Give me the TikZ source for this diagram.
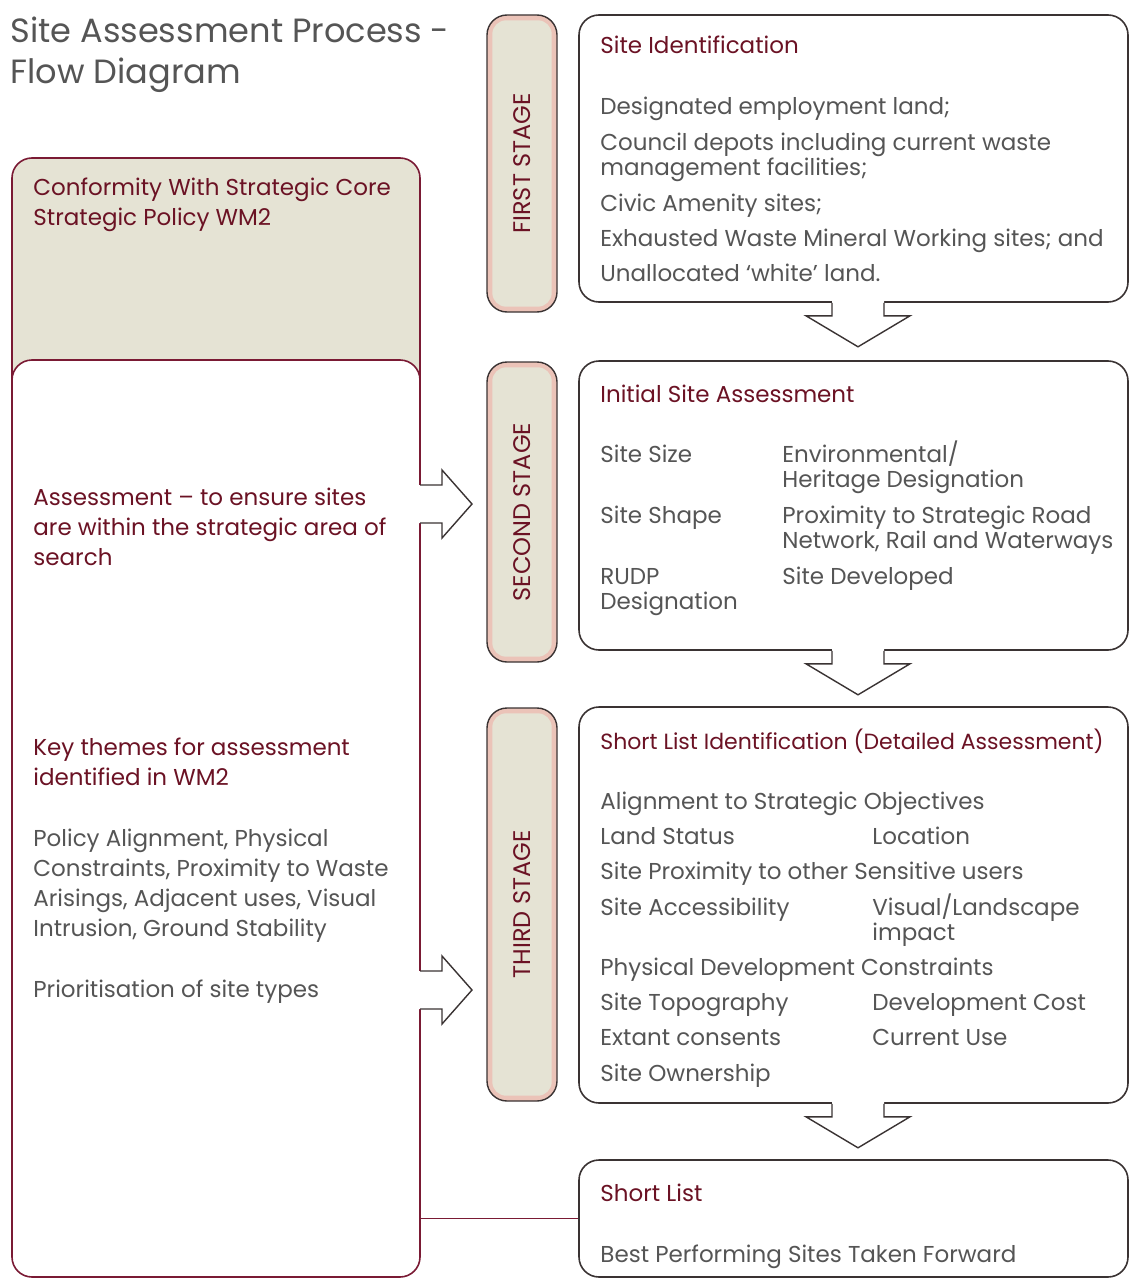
\documentclass[tikz,border=0pt]{standalone}
\usepackage{fontspec}
\setmainfont{Poppins}
\usetikzlibrary{positioning}
\definecolor{headred}{HTML}{6B1224}
\definecolor{bodygrey}{HTML}{555555}
\definecolor{boxline}{HTML}{3A3333}
\definecolor{leftline}{HTML}{7A1A34}
\definecolor{panelfill}{HTML}{E5E3D4}
\definecolor{stagepink}{HTML}{EBC3B8}
\newcommand{\lines}[1]{\begin{tabular}[t]{@{}l@{}}#1\end{tabular}}
\begin{document}
\begin{tikzpicture}[x=0.5pt,y=-0.5pt,
  box/.style={draw=boxline,line width=0.8pt,rounded corners=10pt,fill=white,inner sep=0pt},
  stagebar/.style={draw=boxline,line width=0.7pt,rounded corners=10pt,fill=stagepink,minimum width=35pt,inner sep=0pt},
  stagetext/.style={rotate=90,text=headred,inner sep=0pt,font=\fontsize{12}{14}\selectfont},
  head/.style={anchor=base west,inner sep=0pt,text=headred,font=\fontsize{11.5}{15}\selectfont},
  body/.style={anchor=base west,inner sep=0pt,text=bodygrey,font=\fontsize{11.5}{12.5}\selectfont},
  body left/.style={body,font=\fontsize{11.5}{15}\selectfont},
  blockarrow/.style={draw=boxline,line width=0.7pt,line join=miter}]

\useasboundingbox (0,0) rectangle (1129,1279);

% title
\node[anchor=base west,inner sep=0pt,text=bodygrey,font=\fontsize{16.8}{20.5}\selectfont] (title) at (10,43) {\lines{Site Assessment Process -\\Flow Diagram}};

% left panel
\node[box,fill=panelfill,draw=leftline,minimum width=204pt,minimum height=121pt] (policy) at (216,279) {};
\node[box,draw=leftline,minimum width=204pt,minimum height=458.5pt] (panel) at (216,818.5) {};

% right boxes
\node[box,minimum width=274.5pt,minimum height=143.5pt] (ident) at (853.5,158.5) {};
\node[box,minimum width=274.5pt,minimum height=144.5pt] (initial) at (853.5,505.5) {};
\node[box,minimum width=274.5pt,minimum height=198pt] (detail) at (853.5,905) {};
\node[box,minimum width=274.5pt,minimum height=58.5pt] (shortlist) at (853.5,1218.5) {};

% stage bars
\foreach \n/\yc/\h/\lbl in {first/163.5/148.5pt/FIRST STAGE,second/512/150pt/SECOND STAGE,third/904.5/196.5pt/THIRD STAGE} {
  \node[stagebar,minimum height=\h] (\n) at (522,\yc) {};
  \fill[panelfill,rounded corners=7pt] ([shift={(6,6)}]\n.north west) rectangle ([shift={(-6,-6)}]\n.south east);
  \node[stagetext] (\n-lbl) at (\n) {\lbl};
}

% arrows into the stages
\foreach \yc in {504,990} {
  \fill[white] (414,\yc-19) -- (442,\yc-19) -- (442,\yc-34) -- (472,\yc) -- (442,\yc+34) -- (442,\yc+19) -- (414,\yc+19) -- cycle;
  \draw[blockarrow] (420,\yc-19) -- (442,\yc-19) -- (442,\yc-34) -- (472,\yc) -- (442,\yc+34) -- (442,\yc+19) -- (420,\yc+19);
}

% arrows between boxes
\foreach \b in {ident,initial,detail} {
  \begin{scope}[shift={(\b.south)},xshift=2.25pt]
    \fill[white] (-26,-4) -- (26,-4) -- (26,13) -- (52,13) -- (0,44) -- (-52,13) -- (-26,13) -- cycle;
    \draw[blockarrow] (-26,0) -- (-26,13) -- (-52,13) -- (0,44) -- (52,13) -- (26,13) -- (26,0);
  \end{scope}
}

% link to the short list
\draw[leftline,line width=0.8pt] (shortlist.west -| panel.east) -- (shortlist.west);

% left panel texts
\node[head] (policyhead) at (33,195) {\lines{Conformity With Strategic Core\\Strategic Policy WM2}};
\node[head] (searchhead) at (33,505) {\lines{Assessment – to ensure sites\\are within the strategic area of\\search}};
\node[head] (themeshead) at (33,755) {\lines{Key themes for assessment\\identified in WM2}};
\node[body left] (themes) at (33,846) {\lines{Policy Alignment, Physical\\Constraints, Proximity to Waste\\Arisings, Adjacent uses, Visual\\Intrusion, Ground Stability\\[15.5pt]Prioritisation of site types}};

% first stage
\node[head] (identhead) at (600,54) {Site Identification};
\node[body] (identlist) at (600,115) {\lines{Designated employment land;\\[5pt]Council depots including current waste\\management facilities;\\[5.5pt]Civic Amenity sites;\\[5pt]Exhausted Waste Mineral Working sites; and\\[5pt]Unallocated ‘white’ land.}};

% second stage
\node[head] (initialhead) at (600,402) {Initial Site Assessment};
\node[body] (initialleft) at (600,462) {\lines{Site Size\\[18pt]Site Shape\\[18pt]RUDP\\Designation}};
\node[body] (initialright) at (782,462) {\lines{Environmental/\\Heritage Designation\\[5.5pt]Proximity to Strategic Road\\Network, Rail and Waterways\\[5.5pt]Site Developed}};

% third stage
\node[head,font=\fontsize{11}{15}\selectfont] (detailhead) at (600,749) {Short List Identification (Detailed Assessment)};
\node[body] (detailleft) at (600,809) {\lines{Alignment to Strategic Objectives\\[5pt]Land Status\\[5pt]Site Proximity to other Sensitive users\\[5.5pt]Site Accessibility\\[17.5pt]Physical Development Constraints\\[5pt]Site Topography\\[5pt]Extant consents\\[5.5pt]Site Ownership}};
\node[body] (detailright) at (872,844) {\lines{Location\\[23pt]\smash{Visual/Landscape}\\impact\\[22.5pt]Development Cost\\[5pt]Current Use}};

% short list
\node[head] (shorthead) at (600,1201) {Short List};
\node[body] (shortbody) at (600,1262) {Best Performing Sites Taken Forward};

\end{tikzpicture}
\end{document}
